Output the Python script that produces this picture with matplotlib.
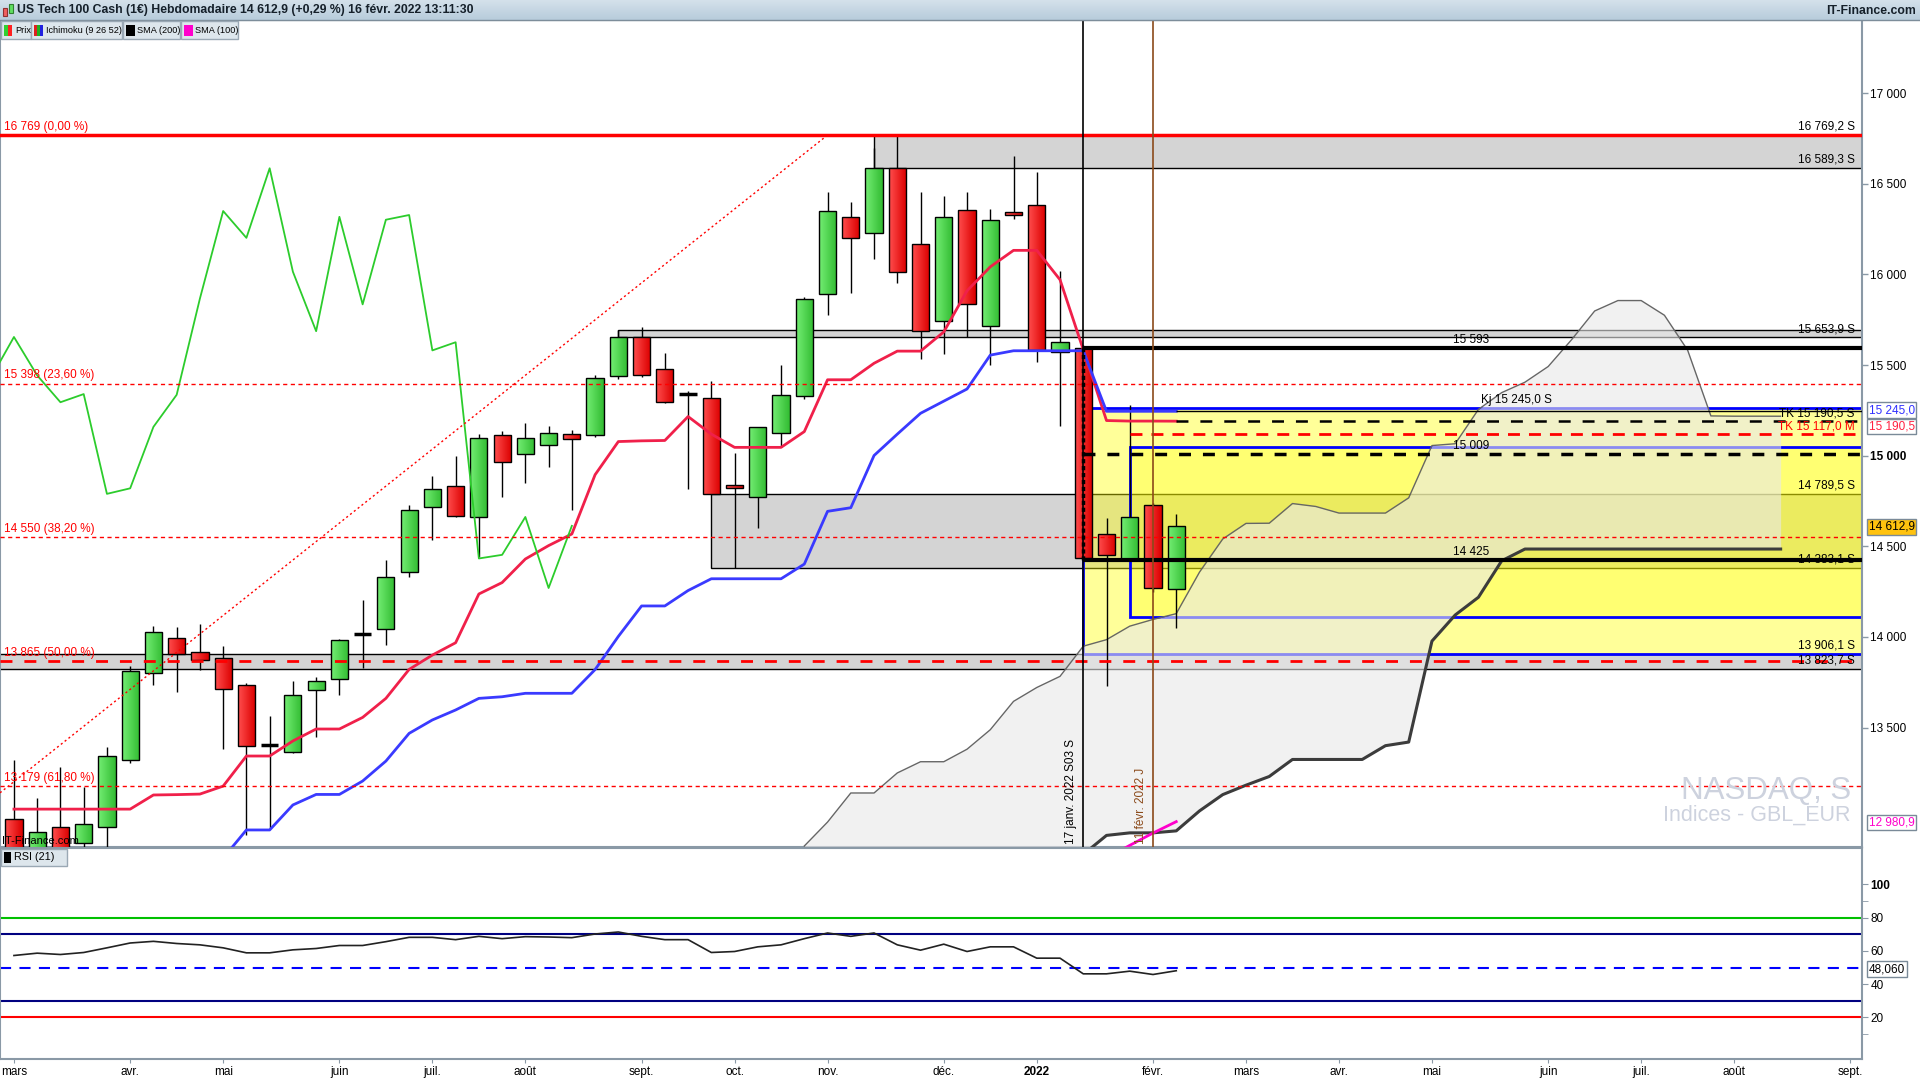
import numpy as np
import pandas as pd
import matplotlib
matplotlib.use("Agg")
import matplotlib.pyplot as plt
from matplotlib.patches import Rectangle

plt.rcParams['font.family'] = ['Liberation Sans', 'DejaVu Sans']
plt.rcParams['lines.scale_dashes'] = False

# bougies hebdo, semaine du 1er mars 2021 -> semaine du 14 fevr. 2022
opens = [12993, 12600, 12949, 12865, 12949, 13321, 13799, 13992, 13919, 13882,
         13735, 13404, 13363, 13707, 13766, 14011, 14042, 14360, 14715, 14833,
         14660, 15114, 15007, 15057, 15118, 15114, 15441, 15657, 15478, 15336,
         15320, 14839, 14774, 15125, 15330, 15890, 16318, 16231, 16586, 16168,
         15742, 16356, 15713, 16344, 16383, 15571, 15596, 14567, 14429, 14727,
         14262]
highs = [13321, 13109, 13284, 13174, 13391, 13840, 14060, 14053, 14071, 13950,
         13748, 13564, 13757, 13781, 13989, 14204, 14425, 14728, 14888, 14999,
         15120, 15136, 15179, 15164, 15142, 15443, 15695, 15711, 15569, 15358,
         15413, 15013, 15159, 15500, 15874, 16454, 16401, 16700, 16769, 16454,
         16434, 16454, 16361, 16655, 16563, 16018, 15610, 14658, 15281, 14740,
         14676]
lows = [12200, 12250, 12600, 12650, 12780, 13306, 13733, 13698, 13818, 13380,
        12907, 12944, 13358, 13450, 13680, 13827, 13956, 14333, 14535, 14660,
        14443, 14774, 14851, 14940, 14700, 15102, 15423, 15433, 15289, 14818,
        14789.5, 14383.1, 14601, 15048, 15312, 15778, 15900, 16087, 15951, 15535,
        15559, 15655, 15498, 16306, 15518, 15163, 14420, 13729, 14420, 14250,
        14047]
closes = [12650, 12925, 12750, 12966, 13345, 13812, 14025, 13904, 13873, 13711,
          13398, 13404, 13680, 13757, 13983, 14015, 14329, 14701, 14815, 14669,
          15096, 14967, 15096, 15124, 15090, 15427, 15655, 15443, 15295, 15340,
          14789.5, 14820, 15159, 15336, 15867, 16350, 16202, 16586, 16015, 15687,
          16318, 15835, 16302, 16328, 15581, 15626, 14433, 14453, 14662, 14270,
          14612.9]

# ichimoku (9 26 52)
tenkan = [13050, 13050, 13050, 13050, 13050, 13050, 13128, 13130, 13133, 13177,
          13343, 13343, 13426, 13492, 13492, 13556, 13661, 13821, 13900, 13968,
          14237, 14300, 14430, 14504, 14568, 14895, 15078, 15082, 15084, 15216,
          15119, 15046, 15046, 15046, 15133, 15419, 15419, 15510, 15577, 15577,
          15683, 15910, 16042, 16133, 16133, 15971, 15585, 15194, 15191, 15191,
          15190.5]
kijun = [np.nan] * 8 + [12560, 12780, 12935, 12935, 13073, 13131, 13131, 13205,
         13315, 13468, 13542, 13597, 13661, 13670, 13689, 13689, 13689, 13820,
         14003, 14171, 14171, 14256, 14321, 14321, 14321, 14321, 14402, 14693,
         14713, 15001, 15119, 15234, 15301, 15368, 15555, 15579, 15579, 15579,
         15579, 15245, 15245, 15245, 15245]
senkou_b_start = 34
senkou_b = [12350, 12350, 12350, 12350, 12400, 12400, 12450, 12500, 12550, 12600,
            12650, 12700, 12800, 12905, 12919, 12919, 12930, 13040, 13130, 13182,
            13230, 13324, 13324, 13324, 13324, 13400, 13420, 13977, 14121, 14219,
            14420] + [14485] * 12
sma100_start = 46
sma100 = [12700, 12780, 12850, 12918, 12980.9]

rsi = [57.2, 58.6, 57.8, 59.0, 61.8, 64.7, 65.7, 64.4, 63.6, 61.8,
       58.8, 58.8, 60.6, 61.4, 63.2, 63.2, 65.5, 68.1, 68.1, 66.7,
       68.7, 67.3, 68.5, 68.3, 67.9, 70.1, 71.3, 68.7, 66.7, 66.7,
       59.0, 59.6, 62.4, 63.6, 67.3, 70.7, 68.7, 70.7, 63.6, 60.4,
       64.0, 59.6, 62.4, 62.4, 55.6, 55.6, 46.2, 46.2, 47.8, 45.8,
       48.06]

fib_levels = [16769, 15398, 14550, 13865, 13179]
fib_pcts = ["0,00", "23,60", "38,20", "50,00", "61,80"]
fib_trend_x = [-0.6, 35.0]
fib_trend_y = [13140, 16769]

weeks = pd.date_range("2021-03-01", periods=80, freq="W-MON")
mois = {1: "janv.", 2: "févr.", 3: "mars", 4: "avr.", 5: "mai", 6: "juin",
        7: "juil.", 8: "août", 9: "sept.", 10: "oct.", 11: "nov.", 12: "déc."}


def fr(v, dec=1):
    s = f"{v:,.{dec}f}"
    return s.replace(",", " ").replace(".", ",")


n = len(closes)
x = np.arange(n)
o = np.array(opens); h = np.array(highs); l = np.array(lows); c = np.array(closes)

W, H = 1920, 1080
fig = plt.figure(figsize=(19.2, 10.8), dpi=100)
fig.patch.set_facecolor("white")


def fax(x0, y0, x1, y1):
    return fig.add_axes([x0 / W, 1 - y1 / H, (x1 - x0) / W, (y1 - y0) / H])


ax = fax(0, 20, 1862, 847)
ax_r = fax(0, 848, 1862, 1059)
XMIN, XMAX = -0.6, 79.5
YMIN, YMAX = 12841, 17404
gris = "#8a99a6"
for a in (ax, ax_r):
    for sp in a.spines.values():
        sp.set_color(gris)
        sp.set_linewidth(1.5)

# zones grises
def zone(x0, lo, hi):
    ax.add_patch(Rectangle((x0, lo), 90 - x0, hi - lo, facecolor="#d4d4d4",
                           edgecolor="black", lw=1, zorder=1))

zone(37, 16589.3, 16769.2)
zone(26, 15653.9, 15695)
zone(30, 14383.1, 14789.5)
zone(-5, 13823.7, 13906.1)

# rectangles jaunes
ax.add_patch(Rectangle((46, 13906.1), 50, 15262 - 13906.1, facecolor=(1, 1, 0, 0.4),
                       edgecolor="#0000ff", lw=2, zorder=2))
ax.add_patch(Rectangle((48, 14112), 50, 15050 - 14112, facecolor=(1, 1, 0, 0.25),
                       edgecolor="#0000ff", lw=2, zorder=2))

# nuage
tk = np.array(tenkan); kj = np.array(kijun)
ssa_x = x + 26
ssa = (tk + kj) / 2
ssb_x = np.arange(senkou_b_start, senkou_b_start + len(senkou_b))
ssb = np.array(senkou_b)
a_on_b = ssa[ssb_x - 26]
ax.fill_between(ssb_x, a_on_b, ssb, where=a_on_b >= ssb, color="#e9e9e9", alpha=0.6,
                lw=0, zorder=3)
ax.plot(ssa_x, ssa, color="#666666", lw=1, zorder=4)
ax.plot(ssb_x, ssb, color="#3c3c3c", lw=2.2, zorder=4)

# bougies (corps en degrade)
ax.vlines(x, l, h, color="black", lw=1, zorder=5)
doji = np.abs(c - o) <= 8
body = ~doji
up = (c >= o)[body]
bars = ax.bar(x[body], np.abs(c - o)[body], bottom=np.minimum(o, c)[body], width=0.74,
              color=np.where(up, "#52d452", "#f21c1c"), edgecolor="none", zorder=6)
vert = np.linspace([0.45, 0.93, 0.45], [0.20, 0.74, 0.20], 16).reshape(1, 16, 3)
rouge = np.linspace([1.0, 0.30, 0.30], [0.86, 0.0, 0.0], 16).reshape(1, 16, 3)
for rect, u in zip(bars, up):
    x0, y0 = rect.get_x(), rect.get_y()
    im = ax.imshow(vert if u else rouge, extent=(x0, x0 + rect.get_width(), y0, y0 + rect.get_height()),
                   aspect="auto", interpolation="bilinear", zorder=6.1)
    im.set_clip_path(rect)
ax.bar(x[body], np.abs(c - o)[body], bottom=np.minimum(o, c)[body], width=0.74,
       fill=False, edgecolor="black", linewidth=1, zorder=6.2)
ax.hlines(c[doji], x[doji] - 0.37, x[doji] + 0.37, color="black", lw=2.5, zorder=6)

# lignes ichimoku
ax.plot(x, tk, color="#f0204a", lw=2, zorder=7)
ax.plot(x, kj, color="#3a3aff", lw=2, zorder=7)
chik_x = np.arange(-1, n - 26)
ax.plot(chik_x, c[25:], color="#2ccc2c", lw=1.3, zorder=7)
ax.plot(np.arange(sma100_start, sma100_start + len(sma100)), sma100,
        color="#ff00cc", lw=2, zorder=7)

# niveaux de Fibonacci
ax.axhline(fib_levels[0], color="#ff0000", lw=2.5, zorder=8)
for lev, pct in zip(fib_levels, fib_pcts):
    if lev == 13865:
        ax.axhline(lev, color="#ff0000", lw=2, dashes=(8.6, 8.6), zorder=8)
    elif lev != 16769:
        ax.axhline(lev, color="#ff0000", lw=1, dashes=(3, 2.5), zorder=8)
    ax.text(0.002, lev + 12, f"{fr(lev, 0)} ({pct} %)", transform=ax.get_yaxis_transform(),
            color="#ff0000", fontsize=8.5, ha="left", va="bottom", zorder=9)
ax.plot(fib_trend_x, fib_trend_y, color="#ff0000", lw=1, dashes=(1.5, 2), zorder=8)

# lignes horizontales / verticales
ax.hlines([15593, 14425], 46, 90, color="black", lw=3, zorder=8)
ax.hlines(15009, 46, 90, color="black", lw=2.5, linestyles=(0, (8.6, 8.6)), zorder=8)
ax.hlines(15117, 48, 90, color="#ff0000", lw=2, linestyles=(0, (8.6, 6.5)), zorder=8)
ax.hlines(15190.5, 50, 90, color="black", lw=1.8, linestyles=(0, (8.6, 8.6)), zorder=8)
ax.hlines(15245, 50, 90, color="black", lw=1, zorder=8)
ax.axvline(46, color="black", lw=1.2, zorder=8)
ax.axvline(49, color="#8b4a1a", lw=1.2, zorder=8)
ax.vlines(46, 14425, 15593, color="black", lw=2.5, linestyles=(0, (3, 2)), zorder=8)

# etiquettes a droite
droite = [(16769.2, "16 769,2 S", "black"), (16589.3, "16 589,3 S", "black"),
          (15653.9, "15 653,9 S", "black"), (15190.5, "TK 15 190,5 S", "black"),
          (15117.0, "TK 15 117,0 M", "#ff0000"), (14789.5, "14 789,5 S", "black"),
          (14383.1, "14 383,1 S", "black"), (13906.1, "13 906,1 S", "black"),
          (13823.7, "13 823,7 S", "black")]
for v, s, col in droite:
    ax.text(0.996, v + 12, s, transform=ax.get_yaxis_transform(), color=col,
            fontsize=8.5, ha="right", va="bottom", zorder=9)
for v, s in [(15593, "15 593"), (15009, "15 009"), (14425, "14 425"), (15262, "Kj 15 245,0 S")]:
    ax.text(61.9 if not s.startswith("Kj") else 63.1, v + 12, s, color="black",
            fontsize=8.5, ha="left", va="bottom", zorder=9)

ax.text(45.75, 12860, "17 janv. 2022 S03 S", rotation=90, fontsize=8.5, ha="right",
        va="bottom", zorder=9)
ax.text(48.75, 12860, "11 févr. 2022 J", rotation=90, fontsize=8.5, ha="right",
        va="bottom", color="#8b4a1a", zorder=9)
ax.text(0.994, 13108, "NASDAQ, S", transform=ax.get_yaxis_transform(), fontsize=22.5,
        color="#cdd2de", ha="right", va="baseline", zorder=9)
ax.text(0.994, 12985, "Indices - GBL_EUR", transform=ax.get_yaxis_transform(), fontsize=15.5,
        color="#cdd2de", ha="right", va="baseline", zorder=9)
ax.text(0.001, 12846, "IT-Finance.com", transform=ax.get_yaxis_transform(), fontsize=8,
        color="black", ha="left", va="bottom", zorder=9)

# axe des prix
ax.set_xlim(XMIN, XMAX)
ax.set_ylim(YMIN, YMAX)
ax.yaxis.tick_right()
yt = [13500, 14000, 14500, 15000, 15500, 16000, 16500, 17000]
ax.set_yticks(yt)
ax.set_yticklabels([fr(v, 0) for v in yt], fontsize=8.5)
for lab, v in zip(ax.get_yticklabels(), yt):
    if v == 15000:
        lab.set_fontweight("bold")
ax.tick_params(axis="y", direction="out", length=4, width=1, color=gris, pad=2)
ax.set_xticks([])
boites = [(15252, "15 245,0", "#3030ff", "white"), (15160, "15 190,5", "#ff2040", "white"),
          (14607, "14 612,9", "black", "#ffc20e"), (12975, "12 980,9", "#ff00cc", "white")]
for v, s, tc, fc in boites:
    ax.text(1.0035, v, s, transform=ax.get_yaxis_transform(), color=tc, fontsize=8.5,
            ha="left", va="center", clip_on=False,
            bbox=dict(boxstyle="square,pad=0.15", fc=fc, ec="#7a8a98", lw=1))

# RSI
ax_r.plot(x, rsi, color="#222222", lw=1.2, zorder=5)
ax_r.axhline(80, color="#00c000", lw=1.5)
ax_r.axhline(70, color="#000080", lw=1.5)
ax_r.axhline(50, color="#0000ff", lw=1.5, dashes=(8, 6))
ax_r.axhline(30, color="#000080", lw=1.5)
ax_r.axhline(20, color="#ff0000", lw=1.5)
ax_r.set_xlim(XMIN, XMAX)
ax_r.set_ylim(-4.9, 121.7)
ax_r.yaxis.tick_right()
rt = [20, 40, 60, 80, 100]
ax_r.set_yticks(rt)
ax_r.set_yticklabels([str(v) for v in rt], fontsize=8.5)
ax_r.get_yticklabels()[-1].set_fontweight("bold")
ax_r.set_yticks([10, 90], minor=True)
ax_r.tick_params(axis="y", which="both", direction="out", length=4, color=gris, pad=2)
ax_r.text(1.0035, 49, "48,060", transform=ax_r.get_yaxis_transform(), fontsize=8.5,
          ha="left", va="center", clip_on=False,
          bbox=dict(boxstyle="square,pad=0.15", fc="white", ec="#7a8a98", lw=1))

tick_pos, tick_lab = [], []
for i, d in enumerate(weeks):
    if i == 0 or d.month != weeks[i - 1].month:
        tick_pos.append(i)
        tick_lab.append(str(d.year) if d.month == 1 else mois[d.month])
ax_r.set_xticks(tick_pos)
ax_r.set_xticklabels(tick_lab, fontsize=8.5)
for lab in ax_r.get_xticklabels():
    if lab.get_text() == "2022":
        lab.set_fontweight("bold")
ax_r.tick_params(axis="x", direction="out", length=3, color=gris, pad=2)

# bandeau titre et legende (coordonnees pixels)
ov = fig.add_axes([0, 0, 1, 1], zorder=10)
ov.patch.set_alpha(0)
grad = np.linspace([0.83, 0.88, 0.92], [0.72, 0.80, 0.86], 20).reshape(20, 1, 3)
ov.imshow(grad, extent=(0, W, 20, 0), aspect="auto", zorder=1)
ov.plot([0, W], [20, 20], color="#7d8d9a", lw=1, zorder=2)
ov.add_patch(Rectangle((3, 8), 4, 8, fc="#f06060", ec="#903030", lw=0.8, zorder=3))
ov.add_patch(Rectangle((9, 4), 4, 9, fc="#60e060", ec="#308030", lw=0.8, zorder=3))
ov.text(17, 10.5, "US Tech 100 Cash (1€) Hebdomadaire 14 612,9 (+0,29 %) 16 févr. 2022 13:11:30",
        fontsize=8.8, fontweight="bold", color="#15202a", va="center", ha="left", zorder=3)
ov.text(1916, 10.5, "IT-Finance.com", fontsize=8.8, fontweight="bold", color="#15202a",
        va="center", ha="right", zorder=3)

legende = [(1, 31, 14, "Prix"), (31, 122, 15, "Ichimoku (9 26 52)"), (123, 180, 14, "SMA (200)"),
           (181, 238, 14, "SMA (100)")]
for x0, x1, dx, s in legende:
    ov.add_patch(Rectangle((x0, 21), x1 - x0, 18, fc="#dde6ec", ec="#9aa8b4", lw=1, zorder=3))
for x0, x1, dx, s in legende:
    ov.text(x0 + dx, 30.5, s, fontsize=6.6, va="center", ha="left", zorder=4)
ov.add_patch(Rectangle((4, 25), 4, 11, fc="#30d030", lw=0, zorder=4))
ov.add_patch(Rectangle((8, 25), 4, 11, fc="#ff2020", lw=0, zorder=4))
for k, col in enumerate(["#e02020", "#20b020", "#2020e0"]):
    ov.add_patch(Rectangle((34 + 3 * k, 25), 3, 11, fc=col, lw=0, zorder=4))
ov.add_patch(Rectangle((126, 25), 9, 11, fc="black", lw=0, zorder=4))
ov.add_patch(Rectangle((184, 25), 9, 11, fc="#ff00cc", lw=0, zorder=4))

ov.add_patch(Rectangle((1, 849), 66, 17, fc="#dde6ec", ec="#9aa8b4", lw=1, zorder=3))
ov.add_patch(Rectangle((4, 852), 7, 11, fc="black", lw=0, zorder=4))
ov.text(14, 857.5, "RSI (21)", fontsize=7.8, va="center", ha="left", zorder=4)

ov.set_xlim(0, W)
ov.set_ylim(H, 0)
ov.axis("off")

fig.savefig("out.png", dpi=100)
